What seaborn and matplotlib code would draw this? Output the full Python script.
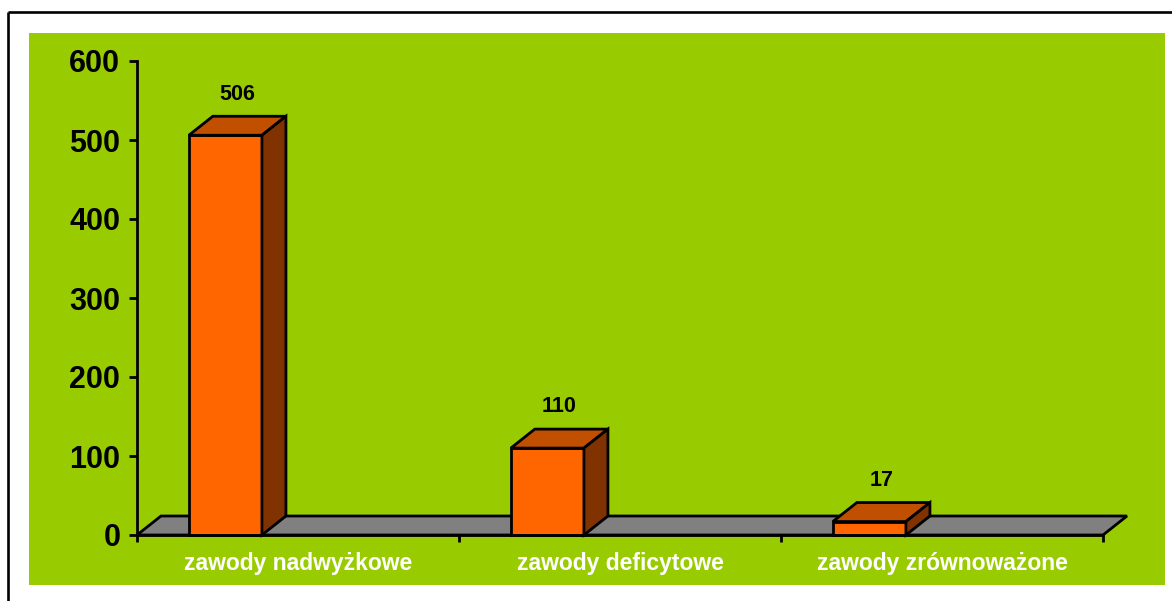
import matplotlib
matplotlib.use("Agg")
import matplotlib.pyplot as plt
import matplotlib.patches as mpatches
import matplotlib.lines as mlines
import seaborn as sns
import pandas as pd

# data
categories = ["zawody nadwyżkowe", "zawody deficytowe", "zawody zrównoważone"]
counts = [506, 110, 17]
y_ticks = [0, 100, 200, 300, 400, 500, 600]

df = pd.DataFrame({"category": categories, "count": counts})

sns.set_style("white")
plt.rcParams["font.family"] = ["Liberation Sans", "DejaVu Sans"]
plt.rcParams["font.weight"] = "bold"
plt.rcParams["text.color"] = "black"

GREEN = "#99CC00"
FRONT = "#FF6600"
TOP = "#C05000"
SIDE = "#803300"
FLOOR = "#808080"
LW = 2.0

W, H = 1172, 601
fig = plt.figure(figsize=(W / 100, H / 100), dpi=100)
fig.patch.set_facecolor("white")

# outer frame and green background
fig.add_artist(mlines.Line2D([7.5 / W, 1], [1 - 11.5 / H, 1 - 11.5 / H], color="black", lw=1.9,
                             solid_capstyle="butt"))
fig.add_artist(mlines.Line2D([7.5 / W, 7.5 / W], [0, 1 - 11.5 / H], color="black", lw=1.9,
                             solid_capstyle="butt"))
fig.add_artist(mpatches.Rectangle((29 / W, 1 - 585 / H), (1165 - 29) / W, (585 - 33) / H,
                                  facecolor=GREEN, edgecolor="none", zorder=0))

ax = fig.add_axes([137 / W, 1 - 535 / H, 966 / W, 474 / H])
ax.set_facecolor("none")

sns.barplot(data=df, x="category", y="count", color=FRONT, saturation=1,
            width=0.227, edgecolor="black", linewidth=LW, ax=ax, zorder=3)

ax.set_xlim(-0.5, 2.5)
ax.set_ylim(0, 600)

# depth of the pseudo 3D effect (24 px right, 19 px up)
dx = 24 / 322
d = 19 / 79 * 100

# floor
floor = mpatches.Polygon([(-0.5, 0), (2.5, 0), (2.5 + dx, d), (-0.5 + dx, d)],
                         closed=True, facecolor=FLOOR, edgecolor="black", lw=LW,
                         zorder=1, clip_on=False, joinstyle="miter")
ax.add_patch(floor)

for p, v in zip(ax.patches[:len(counts)], counts):
    p.set_x(p.get_x() - 0.2255)
    p.set_clip_on(False)
    x0 = p.get_x()
    x1 = x0 + p.get_width()
    h = p.get_height()
    top = mpatches.Polygon([(x0, h), (x1, h), (x1 + dx, h + d), (x0 + dx, h + d)],
                           closed=True, facecolor=TOP, edgecolor="black", lw=LW,
                           zorder=4, clip_on=False)
    side = mpatches.Polygon([(x1, 0), (x1 + dx, d), (x1 + dx, h + d), (x1, h)],
                            closed=True, facecolor=SIDE, edgecolor="black", lw=LW,
                            zorder=4, clip_on=False)
    ax.add_patch(top)
    ax.add_patch(side)
    ax.text((x0 + x1 + dx) / 2, h + d + 28, str(v), ha="center", va="center",
            fontsize=15.5, fontweight="bold", color="black")

# axes styling
for s in ["top", "right", "bottom"]:
    ax.spines[s].set_visible(False)
ax.spines["left"].set_color("black")
ax.spines["left"].set_linewidth(LW)
ax.spines["left"].set_bounds(0, 600)

ax.set_yticks(y_ticks)
ax.set_yticklabels([str(t) for t in y_ticks], fontsize=22, fontweight="bold", color="black")
ax.tick_params(axis="y", left=True, direction="out", length=6, width=LW, color="black", pad=6)

ax.set_xticks([0, 1, 2])
ax.set_xticklabels(categories, fontsize=16.5, fontweight="bold", color="white")
ax.set_xticks([-0.5, 0.5, 1.5, 2.5], minor=True)
ax.tick_params(axis="x", which="major", bottom=False, length=0, pad=12)
ax.tick_params(axis="x", which="minor", bottom=True, direction="out", length=5, width=LW,
               color="black")
ax.axhline(0, color="black", lw=LW, zorder=5, clip_on=False)

ax.set_xlabel("")
ax.set_ylabel("")

plt.savefig("out.png", dpi=100, facecolor="white")
plt.close()
